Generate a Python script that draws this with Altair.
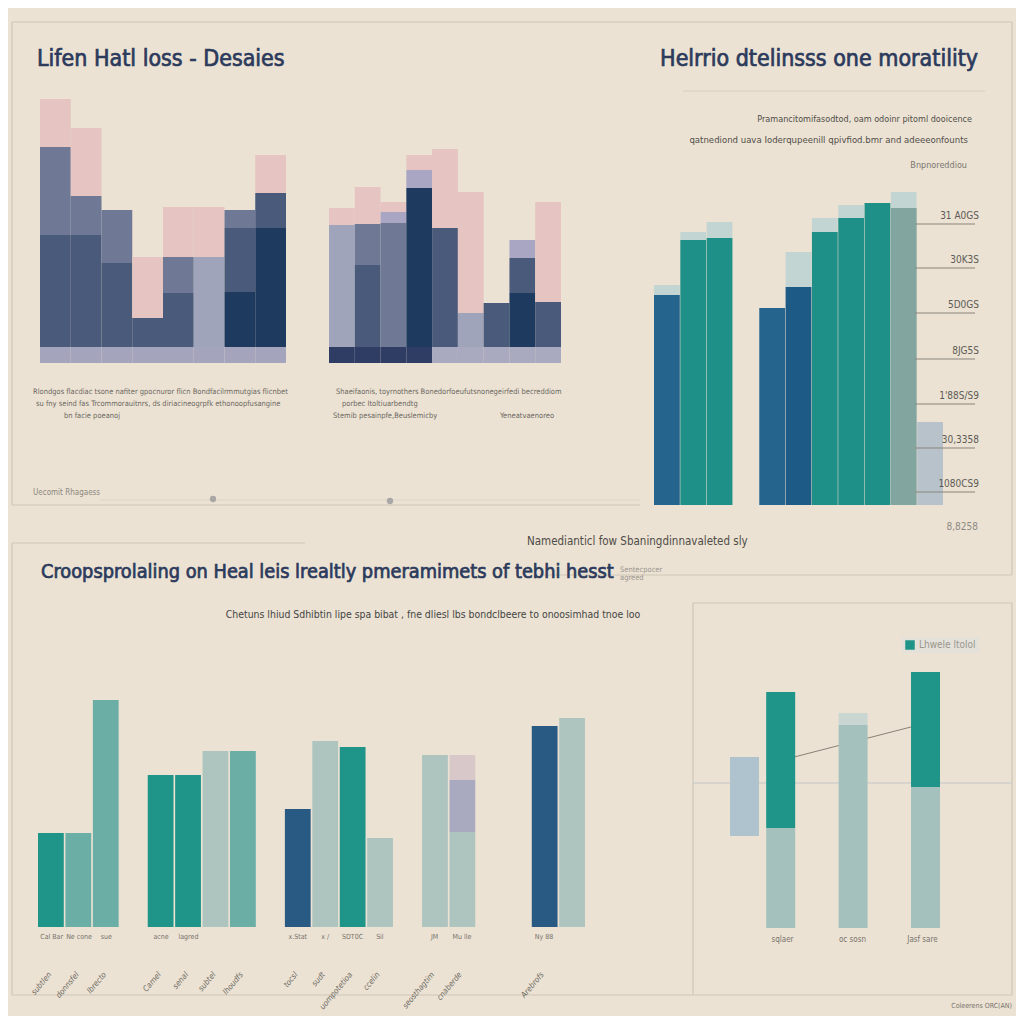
import altair as alt
import pandas as pd

BG = "#ebe2d3"
FRAME = "#cfc6b7"
INK = "#2c3a5c"
GREY = "#6b675f"
NARROW = "Liberation Sans Narrow, DejaVu Sans Condensed, Roboto Condensed, Arial Narrow, sans-serif"

# ---------------- data ----------------
# top-left, first group (stacked, bottom -> top)
A1_BARS = ["a1", "a2", "a3", "a4", "a5", "a6", "a7", "a8"]
A1_CORE = [0, 0, 0, 0, 0, 0, 55, 119]
A1_PALE = [0, 0, 0, 0, 0, 90, 0, 0]
A1_BASE = [112, 112, 84, 29, 54, 0, 64, 35]
A1_MID = [88, 39, 53, 0, 36, 0, 18, 0]
A1_TOP = [48, 68, 0, 61, 50, 50, 0, 38]

# top-left, second group
A2_BARS = ["b1", "b2", "b3", "b4", "b5", "b6", "b7", "b8", "b9"]
A2_CORE = [0, 0, 0, 159, 0, 0, 0, 54, 0]
A2_PALE = [122, 0, 0, 0, 0, 34, 0, 0, 0]
A2_BASE = [0, 82, 0, 0, 119, 0, 44, 35, 45]
A2_MID = [0, 41, 124, 0, 0, 0, 0, 0, 0]
A2_LILAC = [0, 0, 11, 18, 0, 0, 0, 18, 0]
A2_TOP = [17, 37, 10, 15, 79, 121, 0, 0, 100]

# top-right
B_SLOTS = ["t1", "t2", "t3", "gap", "t4", "t5", "t6", "t7", "t8", "t9", "t10"]
B_BARS = ["t1", "t2", "t3", "t4", "t5", "t6", "t7", "t8", "t9", "t10"]
B_BLUE = [210, 0, 0, 197, 0, 0, 0, 0, 0, 0]
B_DEEP = [0, 0, 0, 0, 218, 0, 0, 0, 0, 0]
B_TEAL = [0, 265, 267, 0, 0, 273, 287, 302, 0, 0]
B_SAGE = [0, 0, 0, 0, 0, 0, 0, 0, 297, 0]
B_HAZE = [0, 0, 0, 0, 0, 0, 0, 0, 0, 83]
B_CAP = [10, 8, 16, 0, 35, 14, 13, 0, 16, 0]
B_TICKS = [281, 237, 192, 146, 101, 57, 13]
B_TICK_LABELS = ["31 A0GS", "30K3S", "5D0GS", "8JG5S", "1'88S/S9", "30,3358", "1080CS9"]

# bottom-left
C_SLOTS = ["c1", "c2", "c3", "g1", "c4", "c5", "c6", "c7", "g2", "c8", "c9", "c10", "c11",
           "g3", "c12", "c13", "g4", "g5", "c14", "c15"]
C_BARS = ["c1", "c2", "c3", "c4", "c5", "c6", "c7", "c8", "c9", "c10", "c11", "c12", "c13", "c14", "c15"]
C_TEAL = [94, 0, 0, 152, 152, 0, 0, 0, 0, 180, 0, 0, 0, 0, 0]
C_AQUA = [0, 94, 227, 0, 0, 0, 176, 0, 0, 0, 0, 0, 0, 0, 0]
C_PALE = [0, 0, 0, 0, 0, 176, 0, 0, 186, 0, 89, 172, 95, 0, 209]
C_NAVY = [0, 0, 0, 0, 0, 0, 0, 118, 0, 0, 0, 0, 0, 201, 0]
C_LILAC = [0, 0, 0, 0, 0, 0, 0, 0, 0, 0, 0, 0, 52, 0, 0]
C_BLUSH = [0, 0, 0, 0, 0, 0, 0, 0, 0, 0, 0, 0, 25, 0, 0]
C_TICK_LABELS = ["Cal Bar", "Ne cone", "sue", "acne", "lagred", "", "", "x.Stat", "x /",
                 "SDT0C", "Sil", "JM", "Mu lle", "Ny 88", ""]
C_NOTES = ["subtlen", "donnsfel", "lbrecto", "Camel", "senal", "subtel", "Ihoudfs",
           "tocsl", "sudt", "uompotetioa", "ccelin", "seosthagtim", "cnaberde", "Arebrofs", ""]

# bottom-right
D_SLOTS = ["d1", "d2", "e1", "d3", "e2", "d4"]
D_BARS = ["d1", "d2", "d3", "d4"]
D_CLEAR = [92, 0, 0, 0]
D_HAZE = [79, 0, 0, 0]
D_PALE = [0, 100, 203, 141]
D_CAP = [0, 0, 12, 0]
D_TEAL = [0, 136, 0, 115]
D_LINE_BARS = ["d2", "d4"]
D_LINE_Y = [168, 204]
D_TICK_LABELS = ["", "sqlaer", "oc sosn", "Jasf sare"]
D_LEGEND = "Lhwele ltolol"


def P(v):
    return v - 8


def stacked(bars, series):
    rows = []
    for i, b in enumerate(bars):
        for rank, (name, vals) in enumerate(series.items()):
            if vals[i]:
                rows.append({"bar": b, "series": name, "value": vals[i], "rank": rank})
    return pd.DataFrame(rows)


def xscale(domain, x0, x1, pad):
    return alt.Scale(domain=domain, range=[P(x0), P(x1)], paddingInner=pad, paddingOuter=0)


def yscale(base, top=320):
    return alt.Scale(domain=[0, top], range=[P(base), P(base) - top], nice=False, zero=True)


def bars(df, domain, x0, x1, base, colors, pad=0.0, opacity=1.0):
    return alt.Chart(df).mark_bar(opacity=opacity).encode(
        x=alt.X("bar:N", scale=xscale(domain, x0, x1, pad), axis=None),
        y=alt.Y("value:Q", stack="zero", scale=yscale(base), axis=None),
        color=alt.Color("series:N", scale=alt.Scale(domain=list(colors), range=list(colors.values())), legend=None),
        order=alt.Order("rank:Q"),
    )


def txt(s, x, y, size=10, color=GREY, align="left", weight="normal", font=NARROW, opacity=1.0,
        angle=0, stroke=0.0):
    kw = dict(align=align, baseline="alphabetic", fontSize=size, color=color, fontWeight=weight,
              font=font, opacity=opacity)
    if angle:
        kw["angle"] = angle
    if stroke:
        kw["stroke"] = color
        kw["strokeWidth"] = stroke
    return alt.Chart(pd.DataFrame({"t": [s]})).mark_text(**kw).encode(
        x=alt.value(P(x)), y=alt.value(P(y)), text="t:N")


def hline(x0, x1, y, color=FRAME, w=1.2, op=1.0):
    return alt.Chart(pd.DataFrame({"k": [0]})).mark_rule(color=color, strokeWidth=w, opacity=op).encode(
        x=alt.value(P(x0)), x2=alt.value(P(x1)), y=alt.value(P(y)))


def vline(x, y0, y1, color=FRAME, w=1.2, op=1.0):
    return alt.Chart(pd.DataFrame({"k": [0]})).mark_rule(color=color, strokeWidth=w, opacity=op).encode(
        x=alt.value(P(x)), y=alt.value(P(y0)), y2=alt.value(P(y1)))


def dot(x, y, color="#9a9a9c", size=40):
    return alt.Chart(pd.DataFrame({"k": [0]})).mark_circle(color=color, size=size, opacity=0.8).encode(
        x=alt.value(P(x)), y=alt.value(P(y)))


layers = []

# frames
layers += [
    hline(12, 1012, 22), vline(12, 22, 505), hline(12, 640, 505), vline(1012, 22, 575), hline(540, 1012, 575),
    hline(12, 305, 543), vline(12, 543, 995), hline(12, 1012, 995), vline(1012, 603, 995),
    hline(693, 1012, 603), vline(693, 603, 995),
    hline(683, 985, 91, color="#d6cec2"),
    hline(100, 640, 500, color="#ddd5c9", w=1),
    dot(213, 499), dot(390, 501),
]

# ---------- top-left ----------
A_COL = {"Core": "#1f3a5f", "Pale": "#9fa4ba", "Base": "#4a5a7b", "Mid": "#6f7995",
         "Lilac": "#a9a6c3", "Top": "#e5c4c1"}
a1 = stacked(A1_BARS, {"Core": A1_CORE, "Pale": A1_PALE, "Base": A1_BASE, "Mid": A1_MID, "Top": A1_TOP})
a2 = stacked(A2_BARS, {"Core": A2_CORE, "Pale": A2_PALE, "Base": A2_BASE, "Mid": A2_MID,
                       "Lilac": A2_LILAC, "Top": A2_TOP})
layers.append(bars(a1, A1_BARS, 40, 286, 347, A_COL))
layers.append(bars(a2, A2_BARS, 329, 561, 347, A_COL))

# base strips
a1c = pd.DataFrame({"bar": A1_BARS})
layers.append(alt.Chart(a1c).mark_bar(color="#a4a5bc").encode(
    x=alt.X("bar:N", scale=xscale(A1_BARS, 40, 286, 0.0), axis=None),
    y=alt.YDatum(0, scale=yscale(347), axis=None), y2=alt.Y2Datum(-16)))
a2c = pd.DataFrame({"bar": A2_BARS})
layers.append(alt.Chart(a2c).mark_bar().encode(
    x=alt.X("bar:N", scale=xscale(A2_BARS, 329, 561, 0.0), axis=None),
    y=alt.YDatum(0, scale=yscale(347), axis=None), y2=alt.Y2Datum(-16),
    color=alt.condition(alt.FieldOneOfPredicate(field="bar", oneOf=["b1", "b2", "b3", "b4"]),
                        alt.value("#2f3c63"), alt.value("#a9a9bf"))))

layers += [
    txt("Lifen Hatl loss - Desaies", 37, 66, size=23, color=INK, stroke=0.7),
    txt("Rlondgos flacdiac tsone nafiter gpocnuror flicn Bondfacilrmmutgias flicnbet", 33, 394, size=7.5),
    txt("su fny seind fas Trcommorauitnrs, ds diriacineogrpfk ethonoopfusangine", 36, 406, size=7.5),
    txt("bn facie poeanoj", 64, 418, size=7.5),
    txt("Shaeifaonis, toyrnothers Bonedorfoeufutsnonegeirfedi becreddiom", 336, 394, size=7.5),
    txt("porbec Itoltiuarbendtg", 342, 406, size=7.5),
    txt("Stemib pesainpfe,Beuslemicby", 333, 418, size=7.5),
    txt("Yeneatvaenoreo", 500, 418, size=7.5),
    txt("Uecomit Rhagaess", 33, 495, size=8, color="#8c877e"),
]

# ---------- top-right ----------
B_COL = {"Blue": "#24648d", "Deep": "#1d5a85", "Teal": "#1f9087", "Sage": "#82a59f",
         "Haze": "#b7c2ca", "Cap": "#c3d5d2"}
b = stacked(B_BARS, {"Blue": B_BLUE, "Deep": B_DEEP, "Teal": B_TEAL, "Sage": B_SAGE,
                     "Haze": B_HAZE, "Cap": B_CAP})
layers.append(bars(b, B_SLOTS, 654, 943, 505, B_COL, pad=0.02))
btk = pd.DataFrame({"v": B_TICKS, "lab": B_TICK_LABELS})
layers.append(alt.Chart(btk).mark_rule(color="#8a857c", strokeWidth=1).encode(
    y=alt.Y("v:Q", scale=yscale(505), axis=None), x=alt.value(P(915)), x2=alt.value(P(975))))
layers.append(alt.Chart(btk).mark_text(align="right", baseline="bottom", dy=-3, fontSize=10,
                                       color="#5d5a55", font=NARROW).encode(
    y=alt.Y("v:Q", scale=yscale(505), axis=None), x=alt.value(P(979)), text="lab:N"))
layers += [
    txt("Helrrio dtelinsss one moratility", 978, 66, size=23, color=INK, align="right", stroke=0.7),
    txt("Pramancitomifasodtod, oam odoinr pitoml dooicence", 972, 122, size=9, color="#514e49", align="right"),
    txt("qatnediond uava Ioderqupeenill qpivfiod.bmr and adeeeonfounts", 968, 143, size=9.5, color="#514e49", align="right"),
    txt("Bnpnoreddiou", 967, 168, size=9, color="#7a766f", align="right"),
    txt("8,8258", 978, 530, size=10, color="#8e8a83", align="right"),
    txt("Namedianticl fow Sbaningdinnavaleted sly", 527, 545, size=11.5, color="#4f4c47"),
]

# ---------- bottom-left ----------
C_COL = {"Teal": "#1f9488", "Aqua": "#6aaea6", "Pale": "#adc4bf", "Navy": "#295a84",
         "Lilac": "#a9aabf", "Blush": "#d9c8c9"}
c = stacked(C_BARS, {"Teal": C_TEAL, "Aqua": C_AQUA, "Pale": C_PALE, "Navy": C_NAVY,
                     "Lilac": C_LILAC, "Blush": C_BLUSH})
layers.append(bars(c, C_SLOTS, 38, 585, 927, C_COL, pad=0.06))
clab = pd.DataFrame({"bar": C_BARS, "lab": C_TICK_LABELS, "note": C_NOTES})
layers.append(alt.Chart(clab).mark_text(fontSize=7, color="#77736c", font=NARROW, baseline="alphabetic").encode(
    x=alt.X("bar:N", scale=xscale(C_SLOTS, 38, 585, 0.06), axis=None),
    y=alt.value(P(939)), text="lab:N"))
layers.append(alt.Chart(clab).mark_text(fontSize=8, color="#6f6b64", font=NARROW, angle=310,
                                        align="right", baseline="middle", dx=-2, fontStyle="italic").encode(
    x=alt.X("bar:N", scale=xscale(C_SLOTS, 38, 585, 0.06), axis=None),
    y=alt.value(P(972)), text="note:N"))
layers += [
    txt("Croopsprolaling on Heal leis lrealtly pmeramimets of tebhi hesst", 41, 578, size=19.8,
        color=INK, stroke=0.7),
    txt("Chetuns lhiud Sdhibtin lipe spa bibat , fne dliesl lbs bondclbeere to onoosimhad tnoe loo",
        433, 618, size=10.4, color="#444", align="center"),
    txt("Sentecpocer", 620, 572, size=7.5, color="#9a958d"),
    txt("agreed", 620, 580, size=7.5, color="#9a958d"),
]

# ---------- bottom-right ----------
D_COL = {"Clear": "transparent", "Haze": "#aec3cd", "Pale": "#a4c1bd", "Cap": "#c9d6d2", D_LEGEND: "#1f9488"}
d = stacked(D_BARS, {"Clear": D_CLEAR, "Haze": D_HAZE, "Pale": D_PALE, "Cap": D_CAP, D_LEGEND: D_TEAL})
dline = pd.DataFrame({"bar": D_LINE_BARS, "value": D_LINE_Y})
layers.append(hline(693, 1012, 783, color="#c8ccc8", w=2, op=0.6))
layers.append(alt.Chart(dline).mark_line(color="#8b7f78", strokeWidth=1).encode(
    x=alt.X("bar:N", scale=xscale(D_SLOTS, 730, 940, 0.2), axis=None),
    y=alt.Y("value:Q", scale=yscale(928), axis=None)))
layers.append(alt.Chart(d).mark_bar().encode(
    x=alt.X("bar:N", scale=xscale(D_SLOTS, 730, 940, 0.2), axis=None),
    y=alt.Y("value:Q", stack="zero", scale=yscale(928), axis=None),
    color=alt.Color("series:N", scale=alt.Scale(domain=list(D_COL), range=list(D_COL.values())),
                    legend=alt.Legend(values=[D_LEGEND], title=None, orient="none",
                                      legendX=P(902), legendY=P(637), symbolType="square",
                                      symbolSize=90, symbolFillColor="#4b8aa0", symbolStrokeWidth=0,
                                      labelFont=NARROW, labelFontSize=10, labelColor="#9a958d",
                                      fillColor="#e4e1da", padding=3)),
    order=alt.Order("rank:Q")))
dlab = pd.DataFrame({"bar": D_BARS, "lab": D_TICK_LABELS})
layers.append(alt.Chart(dlab).mark_text(fontSize=8, color="#77736c", font=NARROW).encode(
    x=alt.X("bar:N", scale=xscale(D_SLOTS, 730, 940, 0.2), axis=None),
    y=alt.value(P(940)), text="lab:N"))
layers.append(txt("Coleerens ORC(AN)", 1012, 1008, size=7, color="#77736c", align="right"))

chart = alt.layer(*layers).resolve_scale(x="independent", y="independent", color="independent").properties(
    width=1008, height=1008, background=BG, padding=0, autosize="none"
).configure_view(stroke=None)

chart.save("out.html", embed_options={"renderer": "svg", "actions": False})
